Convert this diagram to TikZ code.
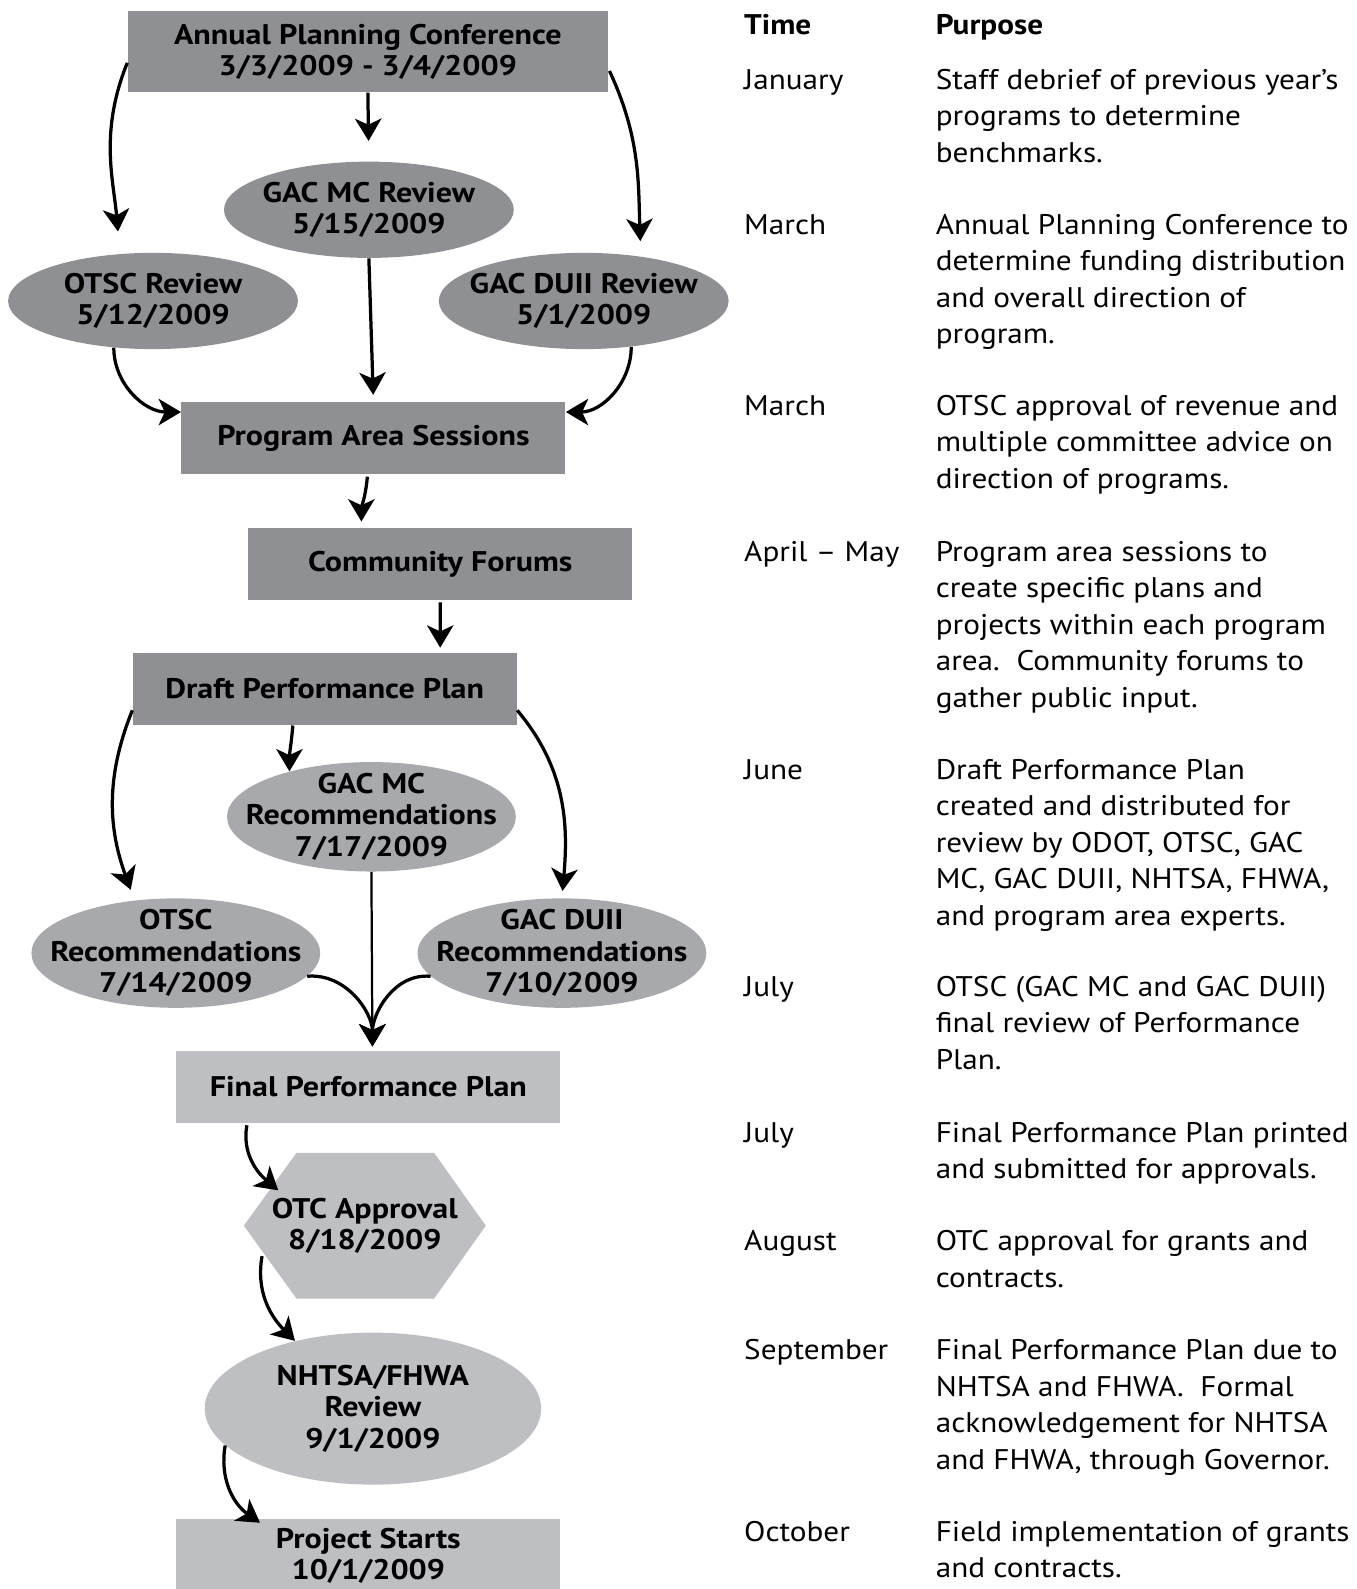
\documentclass[tikz,border=0pt]{standalone}
\usepackage{fontspec}
\newfontfamily\boxfont{PT Sans}[FakeStretch=1.13]
\newfontfamily\colfont{PT Sans}[FakeStretch=1.1]
\usetikzlibrary{arrows.meta, positioning, shapes, calc, backgrounds}
\definecolor{darkfill}{HTML}{8F9094}
\definecolor{midfill}{HTML}{A8A9AD}
\definecolor{litefill}{HTML}{BDBFC2}
\newcommand{\purp}[1]{\begin{tabular}[t]{@{}l@{}}#1\end{tabular}}

\begin{document}
\begin{tikzpicture}[x=0.5pt,y=0.5pt,every node/.style={inner sep=0pt},
  boxtext/.style={font=\boxfont\bfseries\fontsize{14}{15.5}\selectfont,align=center},
  rect/.style={boxtext,rectangle,minimum width=189.5pt,minimum height=35.5pt},
  oval/.style={ellipse,minimum width=143pt,minimum height=47.5pt},
  recoval/.style={ellipse,fill=midfill,minimum width=142.5pt,minimum height=54pt},
  flow/.style={-{Stealth[length=11pt,width=13pt,inset=3pt]},line width=1.6pt},
  coltext/.style={font=\colfont\fontsize{14}{18}\selectfont,anchor=base west},
]
\useasboundingbox (0,0) rectangle (1339,-1568);

% annual conference and the three reviews
\node[rect,fill=darkfill,minimum width=237pt,minimum height=40pt] (apc) at (363,-51) {Annual Planning Conference\\3/3/2009 - 3/4/2009};
\node[oval,fill=darkfill,label={[boxtext]center:GAC MC Review\\5/15/2009}] (gacmc) at (364,-207) {};
\node[oval,fill=darkfill,label={[boxtext]center:OTSC Review\\5/12/2009}] (otsc) at (151,-297) {};
\node[oval,fill=darkfill,label={[boxtext]center:GAC DUII Review\\5/1/2009}] (gacduii) at (576,-297) {};

\node[rect,fill=darkfill] (pas) at (368.5,-432.5) {Program Area Sessions};
\node[rect,fill=darkfill] (cf) at (434.5,-556.5) {Community Forums};
\node[rect,fill=darkfill] (dpp) at (320.5,-680) {Draft Performance Plan};

% recommendations
\node[recoval,label={[boxtext]center:GAC MC\\Recommendations\\7/17/2009}] (gacmcrec) at (366.5,-806) {};
\node[recoval,label={[boxtext]center:OTSC\\Recommendations\\7/14/2009}] (otscrec) at (173.5,-940.5) {};
\node[recoval,label={[boxtext]center:GAC DUII\\Recommendations\\7/10/2009}] (gacduiirec) at (554.5,-940.5) {};

\node[rect,fill=litefill] (fpp) at (363.5,-1072.5) {Final Performance Plan};
\node[boxtext,minimum width=119pt,minimum height=71.5pt] (otc) at (360,-1209.5) {OTC Approval\\8/18/2009};
\begin{pgfonlayer}{background}
\fill[litefill] (otc.west) -- ($(otc.north west)+(52,0)$) -- ($(otc.north east)+(-51,0)$) -- (otc.east)
  -- ($(otc.south east)+(-51,0)$) -- ($(otc.south west)+(52,0)$) -- cycle;
\end{pgfonlayer}
\node[ellipse,fill=litefill,minimum width=166pt,minimum height=75pt,label={[boxtext]center:NHTSA/FHWA\\Review\\9/1/2009}] (nhtsa) at (368,-1390) {};
\node[rect,fill=litefill,minimum height=36pt] (ps) at (363.5,-1535) {Project Starts\\10/1/2009};

% connectors
\draw[flow,shorten >=11pt] ($(apc.west)+(0,-11)$) to[out=-112,in=95] (otsc.125);
\draw[flow,shorten >=10pt] (apc.south) -- (gacmc.north);
\draw[flow,shorten >=7.5pt] ($(apc.east)+(1,-19)$) to[out=-65,in=92] (gacduii.38);
\draw[flow] (otsc.230) to[out=-90,in=180] ($(pas.north west)+(0,-10)$);
\draw[flow,shorten >=3.5pt] (gacmc.south) -- (pas.north);
\draw[flow] (gacduii.316) to[out=-90,in=0] ($(pas.north east)+(0,-10)$);
\draw[flow,shorten >=3pt] ($(pas.south)+(-6,-2)$) to[out=-95,in=90] ($(cf.north west)+(112,0)$);
\draw[flow,shorten >=2.5pt] ($(cf.south)+(0,-2)$) to[out=-90,in=90] ($(dpp.north east)+(-76,0)$);
\draw[flow,shorten >=5.5pt] ($(dpp.south west)+(0,15)$) to[out=-112,in=110] (otscrec.128);
\draw[flow] ($(dpp.south)+(-31.5,0)$) to[out=-95,in=90] (gacmcrec.151);
\draw[flow,shorten >=3.5pt] ($(dpp.south east)+(0,15)$) to[out=-50,in=85] (gacduiirec.north);
\draw[flow,line width=1.1pt,shorten >=2pt] (gacmcrec.south) -- ($(fpp.north)+(4,0)$);
\draw[flow,shorten >=2pt] (otscrec.-10) to[out=5,in=90] ($(fpp.north)+(4,0)$);
\draw[flow,shorten >=2pt] (gacduiirec.190) to[out=175,in=90] ($(fpp.north)+(4,0)$);
\draw[flow] ($(fpp.south west)+(70,-2)$) to[out=-100,in=140] ($(otc.north west)+(34,-37)$);
\draw[flow] ($(otc.west)+(18,-30)$) to[out=-100,in=135] (nhtsa.139);
\draw[flow] (nhtsa.194) to[out=-100,in=145] ($(ps.north west)+(83,-4)$);

% time table
\node[coltext,font=\colfont\bfseries\fontsize{14}{18}\selectfont] (hdtime) at (734,-34) {Time};
\node[coltext,font=\colfont\bfseries\fontsize{14}{18}\selectfont] (hdpurp) at (923,-34) {Purpose};
\node[coltext] (t1) at (734,-88) {January};
\node[coltext] (p1) at (923,-88) {\purp{Staff debrief of previous year’s\\programs to determine\\benchmarks.}};
\node[coltext] (t2) at (734,-231) {March};
\node[coltext] (p2) at (923,-231) {\purp{Annual Planning Conference to\\determine funding distribution\\and overall direction of\\program.}};
\node[coltext] (t3) at (734,-410) {March};
\node[coltext] (p3) at (923,-410) {\purp{OTSC approval of revenue and\\multiple committee advice on\\direction of programs.}};
\node[coltext] (t4) at (734,-554) {April – May};
\node[coltext] (p4) at (923,-554) {\purp{Program area sessions to\\create specific plans and\\projects within each program\\area.\ \ Community forums to\\gather public input.}};
\node[coltext] (t5) at (734,-769) {June};
\node[coltext] (p5) at (923,-769) {\purp{Draft Performance Plan\\created and distributed for\\review by ODOT, OTSC, GAC\\MC, GAC DUII, NHTSA, FHWA,\\and program area experts.}};
\node[coltext] (t6) at (734,-983) {July};
\node[coltext] (p6) at (923,-983) {\purp{OTSC (GAC MC and GAC DUII)\\final review of Performance\\Plan.}};
\node[coltext] (t7) at (734,-1127) {July};
\node[coltext] (p7) at (923,-1127) {\purp{Final Performance Plan printed\\and submitted for approvals.}};
\node[coltext] (t8) at (734,-1234) {August};
\node[coltext] (p8) at (923,-1234) {\purp{OTC approval for grants and\\contracts.}};
\node[coltext] (t9) at (734,-1342) {September};
\node[coltext] (p9) at (923,-1342) {\purp{Final Performance Plan due to\\NHTSA and FHWA.\ \ Formal\\acknowledgement for NHTSA\\and FHWA, through Governor.}};
\node[coltext] (t10) at (734,-1521) {October};
\node[coltext] (p10) at (923,-1521) {\purp{Field implementation of grants\\and contracts.}};
\end{tikzpicture}
\end{document}
